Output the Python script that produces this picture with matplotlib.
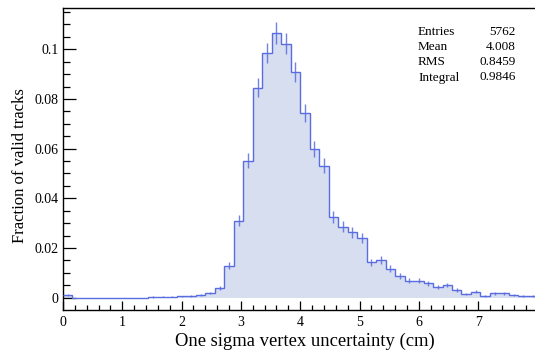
import numpy as np
import matplotlib
matplotlib.use("Agg")
import matplotlib.pyplot as plt
from matplotlib.ticker import MultipleLocator, FixedLocator, FixedFormatter

# ---- data ----
bin_lo, bin_hi, n_bins = 0.0, 8.0, 50
values = [0.0012, 0, 0, 0, 0, 0, 0, 0, 0, 0.0003,
          0.0004, 0.0004, 0.0005, 0.0006, 0.0012, 0.0019, 0.0039, 0.0129, 0.0310, 0.0552,
          0.0846, 0.0985, 0.1066, 0.1023, 0.0909, 0.0743, 0.0597, 0.0532, 0.0324, 0.0286,
          0.0263, 0.0241, 0.0142, 0.0152, 0.0116, 0.0089, 0.0069, 0.0069, 0.0059, 0.0044,
          0.0051, 0.0031, 0.0015, 0.0024, 0.0008, 0.0017, 0.0017, 0.0011, 0.0008, 0.0008]
entries = 5762
stats_labels = ["Entries", "Mean", "RMS", "Integral"]
stats_values = ["5762", "4.008", "0.8459", "0.9846"]
ytick_vals = [0, 0.02, 0.04, 0.06, 0.08, 0.1]
ytick_labels = ["0", "0.02", "0.04", "0.06", "0.08", "0.1"]
xtick_vals = [0, 1, 2, 3, 4, 5, 6, 7]
xtick_labels = ["0", "1", "2", "3", "4", "5", "6", "7"]
xlabel = "One sigma vertex uncertainty (cm)"
ylabel = "Fraction of valid tracks"

# ---- style ----
plt.rcParams['font.family'] = ['Liberation Serif', 'DejaVu Serif']
line_c = '#5a6de0'
fill_c = '#d6deef'

W, H = 535, 350
fig = plt.figure(figsize=(W / 100, H / 100), dpi=100)
L, R, T, B = 63, 537.4, 8, 310
ax = fig.add_axes([L / W, 1 - B / H, (R - L) / W, (B - T) / H])

vals = np.array(values)
edges = np.linspace(bin_lo, bin_hi, n_bins + 1)
centers = 0.5 * (edges[:-1] + edges[1:])

ax.stairs(vals, edges, fill=True, color=fill_c, baseline=0, zorder=1)
ax.stairs(vals, edges, color=line_c, lw=1.0, baseline=None, zorder=3)
errs = np.sqrt(vals * entries) / entries
mask = vals > 0
ax.errorbar(centers[mask], vals[mask], yerr=errs[mask], fmt='none',
            ecolor=line_c, elinewidth=1.0, alpha=0.85, capsize=0, zorder=2)

ax.set_xlim(bin_lo, bin_hi)
ax.set_ylim(-0.00495, 0.1166)

ax.xaxis.set_major_locator(FixedLocator(xtick_vals))
ax.xaxis.set_major_formatter(FixedFormatter(xtick_labels))
ax.xaxis.set_minor_locator(MultipleLocator(0.2))
ax.yaxis.set_major_locator(FixedLocator(ytick_vals))
ax.yaxis.set_major_formatter(FixedFormatter(ytick_labels))
ax.yaxis.set_minor_locator(MultipleLocator(0.005))

ax.tick_params(axis='x', which='major', direction='in', length=6.5, width=0.9, labelsize=10, pad=4)
ax.tick_params(axis='x', which='minor', direction='in', length=3.5, width=0.9)
ax.tick_params(axis='y', which='major', direction='in', length=9.5, width=0.9, labelsize=10, pad=3)
ax.tick_params(axis='y', which='minor', direction='in', length=5, width=0.9)
for s in ['left', 'bottom', 'top']:
    ax.spines[s].set_linewidth(1.0)
ax.spines['right'].set_visible(False)

fig.text(0.5 * (175 + 435) / W, 1 - 341 / H, xlabel, ha='center', va='center', fontsize=13.4)
fig.text(20 / W, 1 - 166 / H, ylabel, ha='center', va='center', rotation=90, fontsize=12)

ys = [32, 47, 62, 77.5]
for lab, val, y in zip(stats_labels, stats_values, ys):
    fig.text(418 / W, 1 - y / H, lab, ha='left', va='center', fontsize=9.5)
    fig.text(516 / W, 1 - y / H, val, ha='right', va='center', fontsize=9.5)

fig.savefig('out.png', dpi=100)
